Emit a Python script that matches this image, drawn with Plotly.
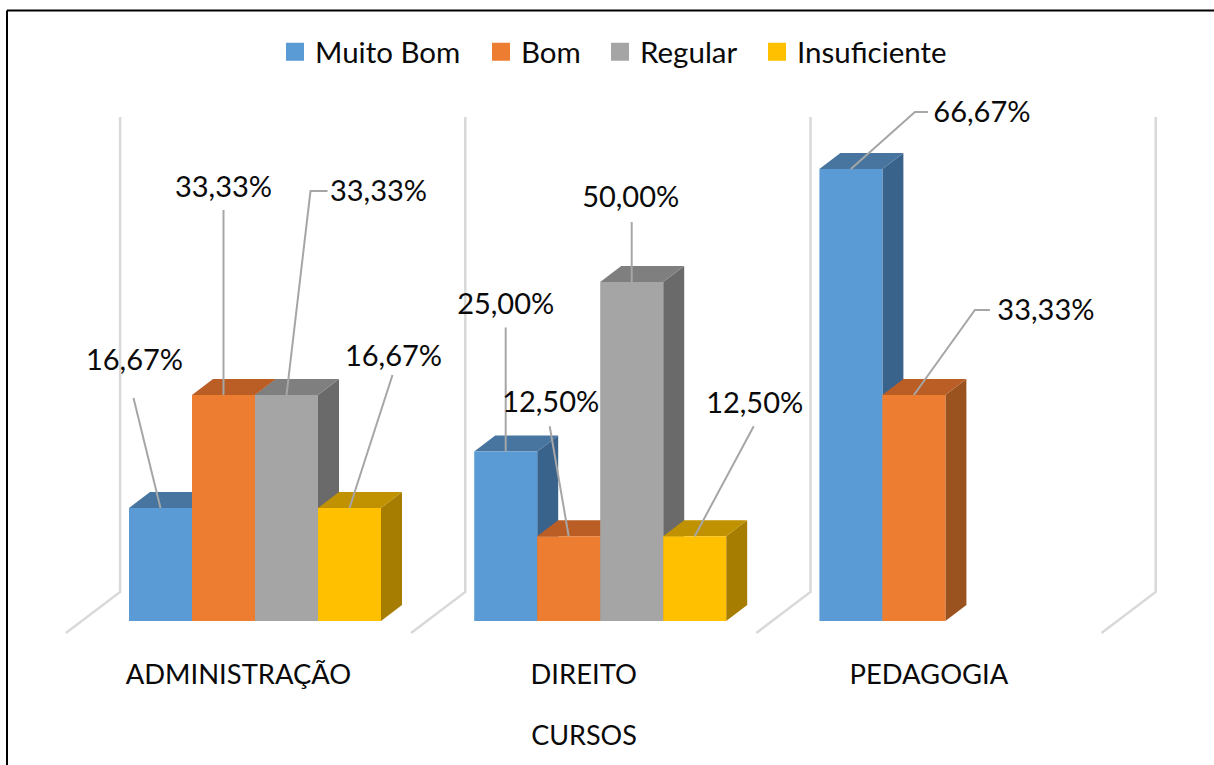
import plotly.graph_objects as go

categories = ["ADMINISTRAÇÃO", "DIREITO", "PEDAGOGIA"]
series_names = ["Muito Bom", "Bom", "Regular", "Insuficiente"]
muito_bom = [16.67, 25.00, 66.67]
bom = [33.33, 12.50, 33.33]
regular = [33.33, 50.00, None]
insuficiente = [16.67, 12.50, None]
series_values = [muito_bom, bom, regular, insuficiente]

front_colors = ["#5B9BD5", "#ED7D31", "#A5A5A5", "#FFC000"]
top_colors = ["#4775A0", "#BA5E25", "#7F7F7F", "#C09100"]
side_colors = ["#3A638C", "#9A521F", "#6A6A6A", "#A67D00"]
FONT = "Lato"
TEXT = "#0a0a0a"

# pixel geometry of the plot
W, H = 1214, 765
PLOT_W, PLOT_H = 1168, 645
CAT_PX = 345.2
PX_PER_PCT = 6.78
X0_PX, Y0_PX = 238.5, 621
BAR_PX = 63
DEPTH_X, DEPTH_Y = 21, 16
LEGEND_X_PX = [275, 481, 600, 757]

def ux(px):
    return px / CAT_PX

def uy(px):
    return px / PX_PER_PCT

x_range = [ux(-X0_PX), ux(PLOT_W - X0_PX)]
y_range = [uy(Y0_PX - PLOT_H), uy(Y0_PX)]
bar_w, dx, dy = ux(BAR_PX), ux(DEPTH_X), uy(DEPTH_Y)

def bar_center(c, s):
    return c + ux(-78 + BAR_PX * s)

fig = go.Figure()

# walls and floor guide lines
for k in range(4):
    back, front = k - 0.343, k - 0.5
    fig.add_trace(go.Scatter(
        x=[back, back, front], y=[uy(621 - 117), uy(621 - 592), uy(621 - 633)],
        mode="lines", line=dict(color="#D9D9D9", width=2.5),
        showlegend=False, hoverinfo="skip"))

# legend entries: one legend per series, so the gaps between them can be set
legend_ids = ["legend", "legend2", "legend3", "legend4"]
for s, name in enumerate(series_names):
    fig.add_trace(go.Scatter(
        x=[None], y=[None], mode="markers", name=name, legend=legend_ids[s],
        marker=dict(symbol="square", size=16, color=front_colors[s],
                    line=dict(color=front_colors[s], width=2))))

# top and side faces, painted series by series behind all fronts
for c in range(len(categories)):
    for s, vals in enumerate(series_values):
        v = vals[c]
        if v is None:
            continue
        xc = bar_center(c, s)
        l, r = xc - bar_w / 2, xc + bar_w / 2
        fig.add_trace(go.Scatter(
            x=[r, r + dx, r + dx, r, r], y=[0, dy, v + dy, v, 0],
            mode="lines", fill="toself", fillcolor=side_colors[s],
            line=dict(width=0), showlegend=False, hoverinfo="skip"))
        fig.add_trace(go.Scatter(
            x=[l, l + dx, r + dx, r, l], y=[v, v + dy, v + dy, v, v],
            mode="lines", fill="toself", fillcolor=top_colors[s],
            line=dict(width=0), showlegend=False, hoverinfo="skip"))

# front faces
for s, vals in enumerate(series_values):
    xs = [bar_center(c, s) for c, v in enumerate(vals) if v is not None]
    ys = [v for v in vals if v is not None]
    fig.add_trace(go.Bar(
        x=xs, y=ys, width=bar_w, name=series_names[s], showlegend=False,
        marker=dict(color=front_colors[s], line=dict(width=0)),
        xaxis="x2", yaxis="y2"))

# leader paths (pixel offsets from the bar's top centre) and label offsets
leaders = {
    (0, 0): ([(-27, -110)], (-26, -145)),
    (0, 1): ([(0, -185)], (0, -205)),
    (0, 2): ([(24, -204), (41, -204)], (92, -201)),
    (0, 3): ([(43, -133)], (44, -149)),
    (1, 0): ([(0, -124)], (0, -145)),
    (1, 1): ([(-19, -110)], (-18, -132)),
    (1, 2): ([(0, -60)], (-1, -82)),
    (1, 3): ([(59, -110)], (60, -131)),
    (2, 0): ([(64, -57), (77, -57)], (131, -54)),
    (2, 1): ([(61, -85), (76, -85)], (132, -82)),
}

for (c, s), (path, lab) in leaders.items():
    v = series_values[s][c]
    xc = bar_center(c, s)
    fig.add_trace(go.Scatter(
        x=[xc] + [xc + ux(p[0]) for p in path],
        y=[v] + [v - uy(p[1]) for p in path],
        mode="lines", line=dict(color="#A6A6A6", width=2),
        showlegend=False, hoverinfo="skip", xaxis="x2", yaxis="y2"))

for (c, s), (path, lab) in leaders.items():
    v = series_values[s][c]
    xc = bar_center(c, s)
    fig.add_trace(go.Scatter(
        x=[xc + ux(lab[0])], y=[v - uy(lab[1])],
        text=[f"{v:.2f}%".replace(".", ",")],
        mode="text", textposition="middle center",
        textfont=dict(family=FONT, size=29, color=TEXT),
        showlegend=False, hoverinfo="skip", xaxis="x2", yaxis="y2"))

legend_layouts = {
    lid: dict(orientation="h", x=LEGEND_X_PX[i] / PLOT_W, xanchor="left",
              y=1 - 26 / PLOT_H, yanchor="top",
              font=dict(family=FONT, size=29.5, color=TEXT),
              bgcolor="rgba(0,0,0,0)", itemclick=False, itemdoubleclick=False)
    for i, lid in enumerate(legend_ids)
}

fig.update_layout(
    width=W, height=H, autosize=False,
    margin=dict(l=0, r=W - PLOT_W, t=0, b=H - PLOT_H, pad=0),
    paper_bgcolor="white", plot_bgcolor="white",
    barmode="overlay",
    font=dict(family=FONT, size=27, color=TEXT),
    xaxis=dict(range=x_range, tickmode="array", tickvals=[0, 1, 2],
               ticktext=categories, showgrid=False, zeroline=False, showline=False,
               ticks="", ticklabelstandoff=11,
               tickfont=dict(family=FONT, size=27.4, color=TEXT),
               title=dict(text="CURSOS", standoff=36,
                          font=dict(family=FONT, size=27, color=TEXT))),
    yaxis=dict(range=y_range, visible=False, fixedrange=True),
    xaxis2=dict(range=x_range, visible=False, overlaying="x", anchor="y2"),
    yaxis2=dict(range=y_range, visible=False, overlaying="y", anchor="x2"),
    shapes=[
        dict(type="line", xref="paper", yref="paper", x0=7 / PLOT_W, x1=7 / PLOT_W,
             y0=1 - 10.5 / PLOT_H, y1=1 - H / PLOT_H, line=dict(color="black", width=2)),
        dict(type="line", xref="paper", yref="paper", x0=7 / PLOT_W, x1=W / PLOT_W,
             y0=1 - 10.5 / PLOT_H, y1=1 - 10.5 / PLOT_H, line=dict(color="black", width=2)),
    ],
    **legend_layouts,
)

fig.write_html("out.html", config={"displayModeBar": False},
               post_script="document.body.style.margin='0';")
